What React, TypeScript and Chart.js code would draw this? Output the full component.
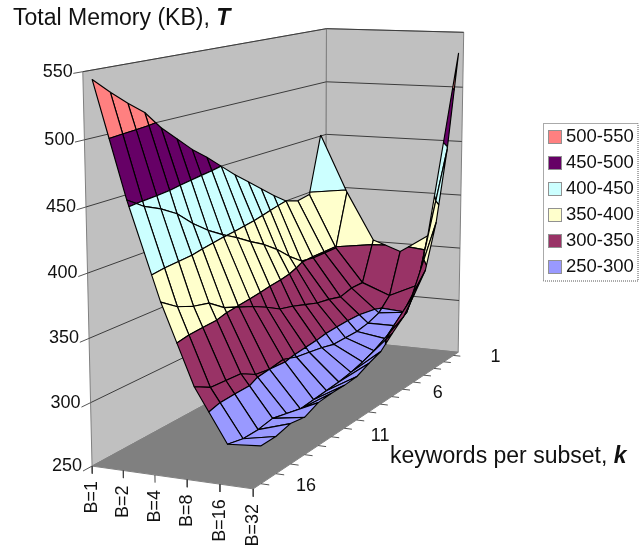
import React, { useEffect, useRef } from "react";
import { Chart, registerables } from "chart.js";

Chart.register(...registerables);

// Categories along the two horizontal axes.
const blockLabels = ["B=1", "B=2", "B=4", "B=8", "B=16", "B=32"];
const keywordCounts = [1, 2, 3, 4, 5, 6, 7, 8, 9, 10, 11, 12, 13, 14, 15, 16, 17];
const keywordTickLabels = [1, 6, 11, 16];
const memoryTicks = [250, 300, 350, 400, 450, 500, 550];

// Total memory (KB) per keyword count, one list per block setting.
const memoryB1 = [451, 398, 396, 400, 409, 419, 429, 439, 450, 461, 471, 483, 495, 510, 520, 531, 543];
const memoryB2 = [398, 349, 349, 349, 351, 360, 371, 380, 387, 395, 402, 410, 420, 432, 440, 446, 455];
const memoryB4 = [354, 318, 318, 315, 318, 320, 324, 328, 331, 338, 344, 349, 354, 363, 366, 371, 380];
const memoryB8 = [345, 308, 297, 293, 291, 291, 291, 294, 296, 298, 302, 300, 302, 309, 310, 311, 318];
const memoryB16 = [362, 320, 300, 293, 287, 282, 278, 275, 273, 272, 271, 270, 273, 276, 274, 274, 277];
const memoryB32 = [532, 448, 385, 346, 330, 315, 306, 296, 292, 287, 286, 286, 285, 280, 282, 279, 279];
const surface = [memoryB1, memoryB2, memoryB4, memoryB8, memoryB16, memoryB32];

// Contour bands, drawn from the surface values.
const bandLabels = ["500-550", "450-500", "400-450", "350-400", "300-350", "250-300"];
const bandFloors = [500, 450, 400, 350, 300, 250];
const bandColors = ["#FF8080", "#660066", "#CCFFFF", "#FFFFCC", "#993366", "#9999FF"];

const WIDTH = 639;
const HEIGHT = 552;
const FONT = '"Liberation Sans", Arial, sans-serif';
const INK = "#111";

// Where the eight corners of the plot box land on the canvas: [u, v, w, x, y].
// u runs along the block axis, v along the keyword axis, w up the memory axis.
const boxCorners = [
  [0, 0, 0, 326, 340],
  [0, 0, 1, 326, 28],
  [1, 0, 0, 458, 351],
  [1, 0, 1, 464, 33],
  [0, 1, 0, 92, 465],
  [0, 1, 1, 83, 72],
  [1, 1, 0, 253, 490],
  [1, 1, 1, 251, 78],
];

// Least-squares fit of a pinhole camera to the box corners.
function fitCamera(): number[] {
  const s = 500;
  const n = 11;
  const A = Array.from({ length: n }, () => new Array(n + 1).fill(0));
  const addRow = (row: number[], rhs: number) => {
    for (let i = 0; i < n; i++) {
      for (let j = 0; j < n; j++) A[i][j] += row[i] * row[j];
      A[i][n] += row[i] * rhs;
    }
  };
  for (const [u, v, w, px, py] of boxCorners) {
    const x = px / s;
    const y = py / s;
    addRow([u, v, w, 1, 0, 0, 0, 0, -x * u, -x * v, -x * w], x);
    addRow([0, 0, 0, 0, u, v, w, 1, -y * u, -y * v, -y * w], y);
  }
  for (let c = 0; c < n; c++) {
    let best = c;
    for (let r = c + 1; r < n; r++) if (Math.abs(A[r][c]) > Math.abs(A[best][c])) best = r;
    [A[c], A[best]] = [A[best], A[c]];
    for (let r = 0; r < n; r++) {
      if (r === c) continue;
      const f = A[r][c] / A[c][c];
      for (let k = c; k <= n; k++) A[r][k] -= f * A[c][k];
    }
  }
  const p = A.map((row, i) => row[n] / row[i]);
  return p.map((value, i) => (i < 8 ? value * s : value));
}

const camera = fitCamera();

function project(u: number, v: number, w: number) {
  const c = camera;
  const d = c[8] * u + c[9] * v + c[10] * w + 1;
  return {
    x: (c[0] * u + c[1] * v + c[2] * w + c[3]) / d,
    y: (c[4] * u + c[5] * v + c[6] * w + c[7]) / d,
  };
}

const MEM_MIN = memoryTicks[0];
const MEM_MAX = memoryTicks[memoryTicks.length - 1];
const toW = (memory: number) => (memory - MEM_MIN) / (MEM_MAX - MEM_MIN);
const toU = (blockIndex: number) => blockIndex / (blockLabels.length - 1);
const toV = (keywords: number) => (keywords - 0.5) / keywordCounts.length;
const surfacePoint = (b: number, k: number, memory: number) => project(toU(b), toV(k), toW(memory));

type Vertex = { b: number; k: number; m: number };

// Keeps the part of a cell outline above (sign 1) or below (sign -1) a level.
function clipAtLevel(poly: Vertex[], level: number, sign: number): Vertex[] {
  const out: Vertex[] = [];
  poly.forEach((cur, i) => {
    const next = poly[(i + 1) % poly.length];
    const curIn = sign * (cur.m - level) >= 0;
    const nextIn = sign * (next.m - level) >= 0;
    if (curIn) out.push(cur);
    if (curIn !== nextIn) {
      const t = (level - cur.m) / (next.m - cur.m);
      out.push({ b: cur.b + (next.b - cur.b) * t, k: cur.k + (next.k - cur.k) * t, m: level });
    }
  });
  return out;
}

const polygonStyle = (fill: string, line: string, lineWidth: number) => ({
  showLine: true,
  fill: "shape" as const,
  backgroundColor: fill,
  borderColor: line,
  borderWidth: lineWidth,
  borderJoinStyle: "round" as const,
  pointRadius: 0,
  tension: 0,
});

function buildDatasets() {
  const back: any[] = [];
  const wall = (pts: { x: number; y: number }[], fill: string, line: string) =>
    back.push({ data: [...pts, pts[0]], ...polygonStyle(fill, line, 1) });
  const stroke = (a: { x: number; y: number }, b: { x: number; y: number }, color: string, width = 1) =>
    back.push({
      data: [a, b],
      showLine: true,
      fill: false,
      borderColor: color,
      borderWidth: width,
      pointRadius: 0,
    });

  // Side walls and floor of the box.
  wall([project(0, 1, 0), project(0, 1, 1), project(0, 0, 1), project(0, 0, 0)], "#C0C0C0", "#808080");
  wall([project(0, 0, 0), project(0, 0, 1), project(1, 0, 1), project(1, 0, 0)], "#C0C0C0", "#808080");
  wall([project(0, 1, 0), project(0, 0, 0), project(1, 0, 0), project(1, 1, 0)], "#808080", "#808080");

  // Memory gridlines across both walls, with their ticks on the front edge.
  memoryTicks.forEach((tick) => {
    const w = toW(tick);
    if (tick !== MEM_MIN) {
      stroke(project(0, 1, w), project(0, 0, w), "#3c3c3c");
      stroke(project(0, 0, w), project(1, 0, w), "#3c3c3c");
    }
    stroke(project(0, 1, w), project(0, 1.03, w), "#555");
  });

  // Ticks along the floor edges.
  blockLabels.forEach((_, b) => stroke(project(toU(b), 1, 0), project(toU(b), 1, -0.02), "#444"));
  keywordCounts.forEach((k) => stroke(project(1, toV(k), 0), project(1.05, toV(k), 0), "#555"));

  // Surface cells, back to front, each split into its contour bands.
  for (let b = 0; b < surface.length - 1; b++) {
    for (let ki = 0; ki < keywordCounts.length - 1; ki++) {
      const k = keywordCounts[ki];
      const cell: Vertex[] = [
        { b, k, m: surface[b][ki] },
        { b: b + 1, k, m: surface[b + 1][ki] },
        { b: b + 1, k: k + 1, m: surface[b + 1][ki + 1] },
        { b, k: k + 1, m: surface[b][ki + 1] },
      ];
      bandFloors.forEach((floor, i) => {
        let poly = clipAtLevel(cell, floor, 1);
        if (poly.length) poly = clipAtLevel(poly, floor + 50, -1);
        if (poly.length < 3) return;
        const pts = poly.map((v) => surfacePoint(v.b, v.k, v.m));
        back.push({ data: [...pts, pts[0]], ...polygonStyle(bandColors[i], "#000", 1.15) });
      });
    }
  }
  // Chart.js paints the first dataset last, so the list is handed over reversed.
  return back.reverse();
}

const annotations = {
  id: "annotations",
  afterDatasetsDraw(chart: any) {
    const { ctx, scales } = chart;
    const sx = (v: number) => scales.x.getPixelForValue(v);
    const sy = (v: number) => scales.y.getPixelForValue(v);
    ctx.save();
    ctx.fillStyle = INK;
    ctx.textBaseline = "middle";

    // Memory axis numbers.
    ctx.font = `18px ${FONT}`;
    ctx.textAlign = "right";
    memoryTicks.forEach((tick) => {
      const p = project(0, 1, toW(tick));
      ctx.fillText(String(tick), sx(p.x - 10), sy(p.y));
    });

    // Block axis names, turned to read upwards.
    blockLabels.forEach((label, b) => {
      const p = project(toU(b), 1, 0);
      ctx.save();
      ctx.translate(sx(p.x), sy(p.y + 15));
      ctx.rotate(-Math.PI / 2);
      ctx.textAlign = "right";
      ctx.fillText(label, 0, 0);
      ctx.restore();
    });

    // Keyword axis numbers.
    ctx.textAlign = "center";
    keywordTickLabels.forEach((k, i) => {
      const p = project(1, toV(k), 0);
      ctx.fillText(String(k), sx(p.x + 35 + [7, 0, 1, -5][i]), sy(p.y + 4 + [-2, 0, 4, 8][i]));
    });

    // Axis captions with their bold italic symbols.
    const caption = (text: string, symbol: string, x: number, y: number) => {
      ctx.textAlign = "left";
      ctx.font = `23px ${FONT}`;
      ctx.fillText(text, sx(x), sy(y));
      const w = ctx.measureText(text).width;
      ctx.font = `italic bold 23px ${FONT}`;
      ctx.fillText(symbol, sx(x) + w, sy(y));
    };
    caption("Total Memory (KB), ", "T", 13, 19);
    caption("keywords per subset, ", "k", 390, 457);

    // Legend box.
    ctx.setLineDash([1, 1]);
    ctx.strokeStyle = "#555";
    ctx.lineWidth = 1;
    ctx.strokeRect(sx(543.5), sy(123.5), sx(638) - sx(543.5), sy(281) - sy(123.5));
    ctx.font = `18.5px ${FONT}`;
    ctx.textAlign = "left";
    bandLabels.forEach((label, i) => {
      const y = 137 + i * 26;
      ctx.fillStyle = bandColors[i];
      ctx.fillRect(sx(549), sy(y - 6), 12, 12);
      ctx.setLineDash([1, 1]);
      ctx.strokeStyle = "#222";
      ctx.strokeRect(sx(548.5), sy(y - 6.5), 13, 13);
      ctx.fillStyle = INK;
      ctx.fillText(label, sx(566), sy(y));
    });
    ctx.restore();
  },
};

export default function App() {
  const canvasRef = useRef<HTMLCanvasElement>(null);

  useEffect(() => {
    const chart = new Chart(canvasRef.current as HTMLCanvasElement, {
      type: "scatter",
      data: { datasets: buildDatasets() },
      options: {
        animation: false,
        responsive: false,
        devicePixelRatio: 1,
        layout: { padding: 0 },
        scales: {
          x: { type: "linear", min: 0, max: WIDTH, display: false },
          y: { type: "linear", min: 0, max: HEIGHT, reverse: true, display: false },
        },
        plugins: {
          legend: { display: false },
          tooltip: { enabled: false },
          title: { display: false },
        },
      },
      plugins: [annotations],
    } as any);
    return () => chart.destroy();
  }, []);

  return (
    <div style={{ position: "absolute", left: 0, top: 0, background: "#fff" }}>
      <canvas ref={canvasRef} width={WIDTH} height={HEIGHT} style={{ display: "block" }} />
    </div>
  );
}
